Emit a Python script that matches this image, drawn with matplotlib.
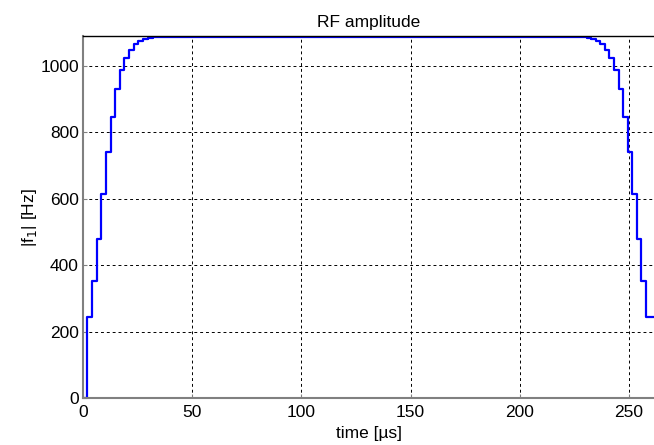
import matplotlib.pyplot as plt
import numpy as np

plt.rcParams['font.family'] = ['Liberation Sans', 'DejaVu Sans']

# Step edges (time in us, amplitude in Hz)
t_rise = [0, 1.7, 4.0, 6.2, 8.4, 10.5, 12.7, 14.8, 16.8, 18.9, 21.0, 23.1, 25.3, 27.5, 29.7, 31.9, 34.1]
f_rise = [0, 243, 351, 479, 615, 741, 847, 930, 986, 1023, 1048, 1066, 1074, 1080, 1084, 1086, 1087]
t_fall = [228.5, 230.6, 232.7, 234.8, 236.9, 239.0, 241.0, 243.1, 245.3, 247.3, 249.4, 251.5, 253.7, 255.6, 257.8, 260.1, 262.0]
f_fall = [1086, 1084, 1080, 1074, 1066, 1048, 1023, 986, 930, 847, 741, 615, 479, 351, 243, 243, 0]

t = np.array(t_rise + t_fall)
f = np.array(f_rise + f_fall)

fig = plt.figure(figsize=(6.54, 4.45), dpi=100)
ax = fig.add_axes([0.127, 0.1056, 0.873, 0.813])

ax.step(t, f, where='post', color='#0000ff', lw=1.6)

ax.set_xlim(0, 261.4)
ax.set_ylim(0, 1089)
ax.set_xticks([0, 50, 100, 150, 200, 250])
ax.set_yticks([0, 200, 400, 600, 800, 1000])
ax.grid(True, color='black', linestyle=(0, (3, 3)), lw=0.7)
ax.tick_params(direction='in', labelsize=12.5, length=3, pad=3, color='#808080')
ax.tick_params(axis='x', pad=5)

for s in ['left', 'bottom']:
    ax.spines[s].set_color('#808080')
    ax.spines[s].set_linewidth(1.5)
ax.spines['top'].set_color('black')
ax.spines['top'].set_linewidth(1.0)
ax.spines['right'].set_visible(False)

ax.set_title('RF amplitude', fontsize=12.5, pad=7)
ax.set_xlabel('time [µs]', fontsize=12.5, labelpad=4)
ax.set_ylabel('|f$_1$| [Hz]', fontsize=12.5, labelpad=1)

fig.savefig('out.png', dpi=100)
